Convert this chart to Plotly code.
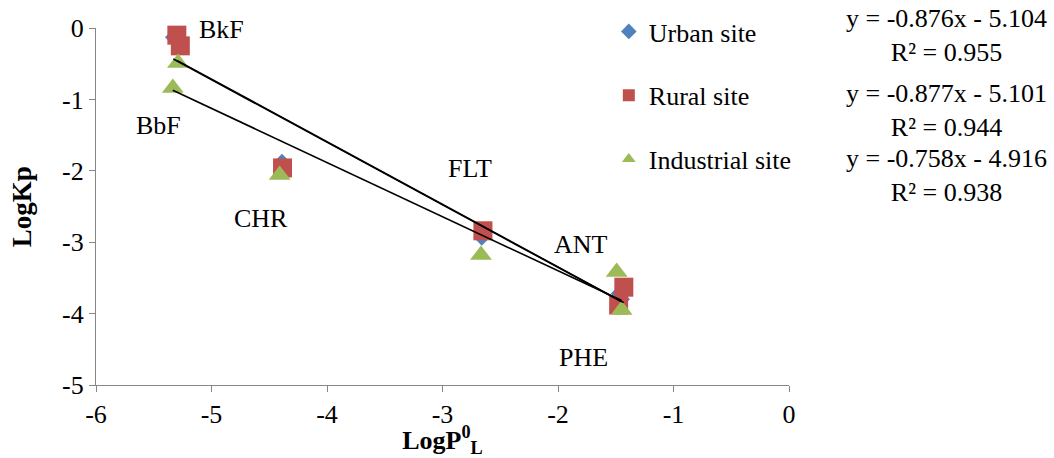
import plotly.graph_objects as go

compounds = ["BkF", "BbF", "CHR", "FLT", "ANT", "PHE"]

urban_x = [-5.33, -5.28, -4.39, -2.66, -1.47, -1.45]
urban_y = [-0.13, -0.24, -1.88, -2.93, -3.72, -3.80]

rural_x = [-5.30, -5.27, -4.385, -2.65, -1.43, -1.475]
rural_y = [-0.10, -0.25, -1.96, -2.84, -3.63, -3.88]

ind_x = [-5.29, -5.335, -4.41, -2.667, -1.492, -1.449]
ind_y = [-0.49, -0.84, -2.06, -3.18, -3.417, -3.95]

series_names = ["Urban site", "Rural site", "Industrial site"]
slopes = [-0.876, -0.877, -0.758]
intercepts = [-5.104, -5.101, -4.916]
r2 = [0.955, 0.944, 0.938]

label_x = [-4.91, -5.46, -4.57, -2.76, -1.80, -1.78]
label_y = [-0.02, -1.37, -2.67, -1.97, -3.03, -4.61]

x_ticks = [-6, -5, -4, -3, -2, -1, 0]
x_ticktext = ["-6", "-5", "-4", "-3", "-2", "-1", "0"]
y_ticks = [-5, -4, -3, -2, -1, 0]
y_ticktext = ["-5", "-4", "-3", "-2", "-1", "0"]

colors = ["#4F81BD", "#C0504D", "#9BBB59"]
symbols = ["diamond", "square", "triangle-up"]
sizes = [13, 19, 19]

FONT = "Liberation Serif, Times New Roman, serif"
FS = 26

fig = go.Figure()

xs = [urban_x, rural_x, ind_x]
ys = [urban_y, rural_y, ind_y]

for i in range(3):
    fig.add_trace(go.Scatter(
        x=xs[i], y=ys[i], mode="markers", name=series_names[i],
        legendgroup=series_names[i],
        marker=dict(symbol=symbols[i], size=sizes[i], color=colors[i],
                    line=dict(width=0)),
        cliponaxis=False,
    ))

for i in range(3):
    x0, x1 = min(xs[i]), max(xs[i])
    fig.add_trace(go.Scatter(
        x=[x0, x1], y=[slopes[i] * x0 + intercepts[i], slopes[i] * x1 + intercepts[i]],
        mode="lines", line=dict(color="black", width=1.6), showlegend=False,
        hoverinfo="skip", cliponaxis=False,
    ))

for name, lx, ly in zip(compounds, label_x, label_y):
    fig.add_annotation(x=lx, y=ly, text=name, showarrow=False,
                       font=dict(family=FONT, size=FS, color="black"))

eq_y = [0.9776, 0.770, 0.588]
for i in range(3):
    sign = "-" if intercepts[i] < 0 else "+"
    txt = f"y = {slopes[i]:.3f}x {sign} {abs(intercepts[i]):.3f}<br>R² = {r2[i]:.3f}"
    fig.add_annotation(xref="paper", yref="paper", x=1.2266, y=eq_y[i], xanchor="center",
                       yanchor="middle", text=txt, showarrow=False, align="center",
                       font=dict(family=FONT, size=FS, color="black"))

# y-axis title as rotated text
fig.add_annotation(xref="paper", yref="paper", x=-0.107, y=0.5, xanchor="center",
                   yanchor="middle", text="<b>LogKp</b>", textangle=-90, showarrow=False,
                   font=dict(family=FONT, size=27, color="black"))

axis_common = dict(
    showgrid=False, zeroline=False, showline=True, linecolor="#868686", linewidth=1.3,
    ticks="outside", ticklen=6, tickcolor="#868686", tickwidth=1.3,
    tickfont=dict(family=FONT, size=FS, color="black"), tickmode="array",
)

fig.update_layout(
    width=1054, height=458,
    margin=dict(l=96, r=265, t=28, b=73, autoexpand=False),
    paper_bgcolor="white", plot_bgcolor="white",
    xaxis=dict(range=[-6, 0], tickvals=x_ticks, ticktext=x_ticktext,
               title=dict(text="<b>LogP<sup>0</sup><sub>L</sub></b>",
                          font=dict(family=FONT, size=FS, color="black"), standoff=3),
               **axis_common),
    yaxis=dict(range=[-5, 0], tickvals=y_ticks, ticktext=y_ticktext, **axis_common),
    legend=dict(x=0.74, y=1.056, xanchor="left", yanchor="top",
                font=dict(family=FONT, size=FS, color="black"),
                tracegroupgap=27, itemsizing="constant", bgcolor="rgba(0,0,0,0)"),
    showlegend=True,
)

fig.write_html("out.html", config={"displayModeBar": False},
               post_script="document.body.style.margin='0';")
